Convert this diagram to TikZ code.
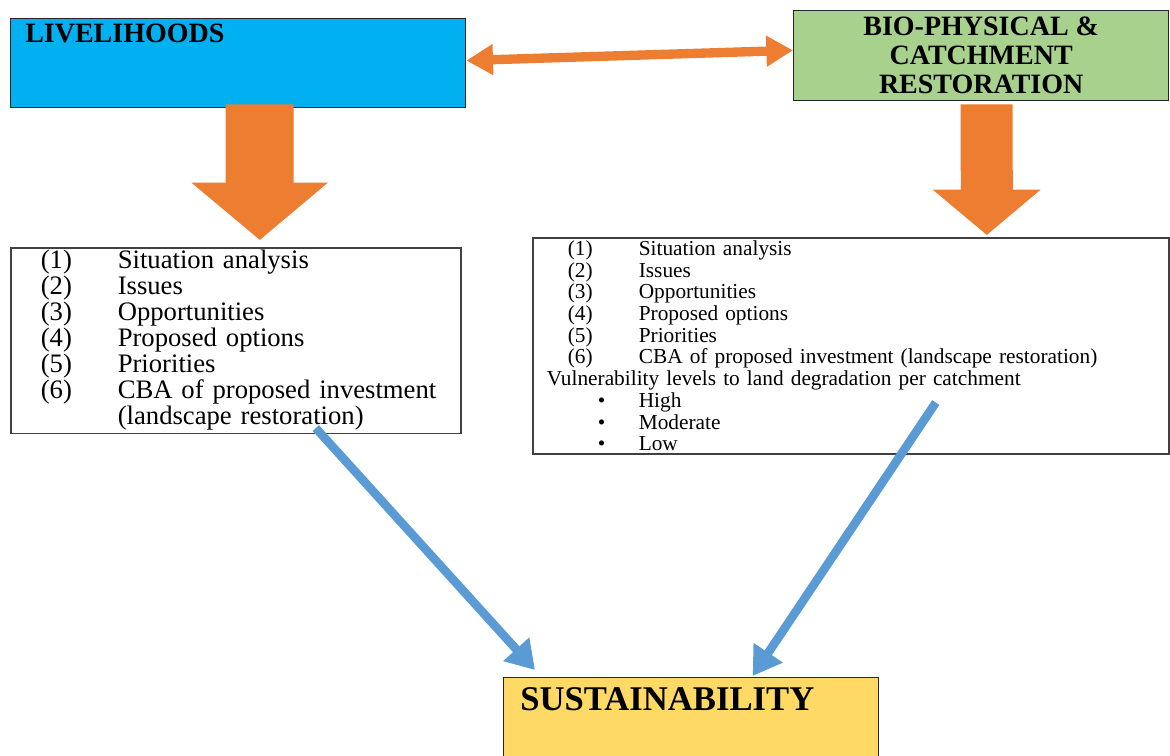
\documentclass[tikz,border=0pt]{standalone}
\usepackage{fontspec}
\setmainfont{Liberation Serif}
\usetikzlibrary{arrows.meta, positioning, calc}
\definecolor{livblue}{HTML}{00B0F0}
\definecolor{biogreen}{HTML}{A9D18E}
\definecolor{floworange}{HTML}{ED7D31}
\definecolor{flowblue}{HTML}{5B9BD5}
\definecolor{susyellow}{HTML}{FFD966}
\newcommand{\listrow}[4]{\hspace*{#1}\makebox[#2][l]{#3}#4}

\begin{document}
\begin{tikzpicture}[x=0.75pt, y=-0.75pt, >=Latex,
  box/.style={draw=black!85, line width=1pt, inner sep=0pt, anchor=north west},
  listbox/.style={draw=black!75, line width=1.2pt, anchor=north west, align=left, inner xsep=0pt, inner ysep=2pt},
  title/.style={font=\bfseries\fontsize{21}{21.75}\selectfont, inner sep=0pt}]
  \useasboundingbox (0,0) rectangle (1170,756);

  % top boxes
  \node[box, fill=livblue, minimum width=341.25pt, minimum height=66.75pt] (liv) at (10,18) {};
  \node[title, anchor=base west] (livtitle) at ($(liv.north west)+(15,25)$) {LIVELIHOODS};
  \node[box, fill=biogreen, minimum width=281.25pt, minimum height=67.5pt, title, align=center] (bio) at (793,10) {BIO-PHYSICAL \&\\CATCHMENT\\RESTORATION};

  % lists
  \node[listbox, text width=337.5pt, font=\fontsize{20}{19.5}\selectfont] (livlist) at (10,247) {%
    \listrow{22.5pt}{57.75pt}{(1)}{Situation analysis}\\
    \listrow{22.5pt}{57.75pt}{(2)}{Issues}\\
    \listrow{22.5pt}{57.75pt}{(3)}{Opportunities}\\
    \listrow{22.5pt}{57.75pt}{(4)}{Proposed options}\\
    \listrow{22.5pt}{57.75pt}{(5)}{Priorities}\\
    \listrow{22.5pt}{57.75pt}{(6)}{CBA of proposed investment}\\
    \listrow{80.25pt}{0pt}{}{(landscape restoration)}};
  \node[listbox, text width=477pt, font=\fontsize{16}{16.3}\selectfont] (biolist) at (532,237) {%
    \listrow{26.25pt}{53.25pt}{(1)}{Situation analysis}\\
    \listrow{26.25pt}{53.25pt}{(2)}{Issues}\\
    \listrow{26.25pt}{53.25pt}{(3)}{Opportunities}\\
    \listrow{26.25pt}{53.25pt}{(4)}{Proposed options}\\
    \listrow{26.25pt}{53.25pt}{(5)}{Priorities}\\
    \listrow{26.25pt}{53.25pt}{(6)}{CBA of proposed investment (landscape restoration)}\\
    \listrow{10.5pt}{0pt}{}{Vulnerability levels to land degradation per catchment}\\
    \listrow{48.75pt}{30.75pt}{\textbullet}{High}\\
    \listrow{48.75pt}{30.75pt}{\textbullet}{Moderate}\\
    \listrow{48.75pt}{30.75pt}{\textbullet}{Low}};

  % goal
  \node[box, fill=susyellow, minimum width=281.25pt, minimum height=66pt] (sus) at (503,677) {};
  \node[inner sep=0pt, anchor=base west, font=\bfseries\fontsize{26}{30}\selectfont] (sustitle) at ($(sus.north west)+(17,33)$) {SUSTAINABILITY};

  % arrows
  \draw[floworange, line width=7pt, {Triangle[width=22pt,length=20pt]}-{Triangle[width=22pt,length=20pt]}] ([yshift=2pt]liv.east) -- ([yshift=4pt]bio.west);
  \draw[floworange, line width=51pt, -{Triangle[width=100pt,length=43pt]}] ($(liv.south)+(21.5,-4)$) -- ($(livlist.north)+(24,-7)$);
  \draw[floworange, line width=39pt, -{Triangle[width=79pt,length=34pt]}] ($(bio.south)+(5.5,3)$) -- ($(biolist.north)+(136,-2)$);
  \draw[flowblue, line width=6.5pt, -{Triangle[width=25pt,length=21pt]}] ($(livlist.south)+(80,-6)$) -- ($(sus.north west)+(32,-7)$);
  \draw[flowblue, line width=6.5pt, -{Triangle[width=25pt,length=21pt]}] ($(biolist.south)+(85,-52)$) -- ($(sus.north)+(61.5,-1)$);
\end{tikzpicture}
\end{document}
